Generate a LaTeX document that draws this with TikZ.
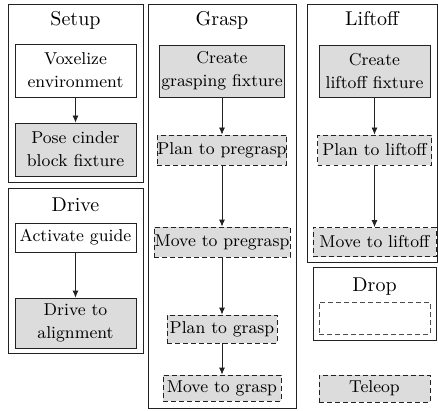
\documentclass[tikz,border=0pt]{standalone}
\usetikzlibrary{arrows.meta}
\definecolor{ink}{HTML}{222222}
\definecolor{shade}{HTML}{DCDCDC}
\tikzset{
  frame/.style={draw=ink, line width=0.45pt},
  ttl/.style={anchor=base, inner sep=0pt, font=\fontsize{10}{12}\selectfont},
  blk/.style={draw=ink, line width=0.4pt, align=center, inner sep=0pt,
    font=\fontsize{8.6}{11.5}\selectfont},
  wh/.style 2 args={minimum width=#1*0.5pt, minimum height=#2*0.5pt},
  plain/.style={blk, fill=white},
  fix/.style={blk, fill=shade},
  opt/.style={blk, fill=shade, dash pattern=on 2.4pt off 1.6pt},
  hole/.style={blk, draw=ink!80, dash pattern=on 2.4pt off 1.6pt},
  flow/.style={draw=ink, line width=0.4pt, -{Latex[length=3.5pt,width=3pt]}},
}

\begin{document}
\begin{tikzpicture}[x=0.5pt,y=-0.5pt]
  \useasboundingbox (0,0) rectangle (438,411);
  % stage frames
  \draw[frame] (8,4) rectangle (143,182);
  \draw[frame] (8,188) rectangle (143,353);
  \draw[frame] (148,4) rectangle (296,408);
  \draw[frame] (307,4) rectangle (437,262);
  \draw[frame] (313,267) rectangle (436,340);
  \node[ttl] (setupT) at (75.5,26) {Setup};
  \node[ttl] (driveT) at (75.5,211) {Drive};
  \node[ttl] (graspT) at (222,26) {Grasp};
  \node[ttl] (liftT) at (372,26) {Liftoff};
  \node[ttl] (dropT) at (374.5,291) {Drop};
  % setup
  \node[plain, wh={121}{53}] (vox) at (75.5,70.5) {Voxelize\\environment};
  \node[fix, wh={121}{53}] (pose) at (75.5,149.5) {Pose cinder\\block fixture};
  \draw[flow] (vox) -- (pose);
  % drive
  \node[plain, wh={121}{29}] (guide) at (75.5,237.5) {Activate guide};
  \node[fix, wh={121}{50}] (align) at (75.5,323) {Drive to\\alignment};
  \draw[flow] (guide) -- (align);
  % grasp
  \node[fix, wh={125}{52}] (cgf) at (222,71) {Create\\grasping fixture};
  \node[opt, wh={124}{30}] (ppre) at (222,150) {Plan to pregrasp};
  \node[opt, wh={136}{30}] (mpre) at (222,242) {Move to pregrasp};
  \node[opt, wh={110}{28}] (pg) at (222,329) {Plan to grasp};
  \node[opt, wh={118}{26}] (mg) at (222,388) {Move to grasp};
  \draw[flow] (cgf) -- (ppre);
  \draw[flow] (ppre) -- (mpre);
  \draw[flow] (mpre) -- (pg);
  \draw[flow] (pg) -- (mg);
  % liftoff
  \node[fix, wh={111}{52}] (clf) at (374.5,71) {Create\\liftoff fixture};
  \node[opt, wh={114}{30}] (pl) at (374.5,150) {Plan to liftoff};
  \node[opt, wh={123}{29}] (ml) at (374.5,242) {Move to liftoff};
  \draw[flow] (clf) -- (pl);
  \draw[flow] (pl) -- (ml);
  % drop, teleop
  \node[hole, wh={111}{32}] (drop) at (374.5,318) {};
  \node[opt, wh={111}{27}] (tel) at (374.5,388.5) {Teleop};
\end{tikzpicture}
\end{document}
